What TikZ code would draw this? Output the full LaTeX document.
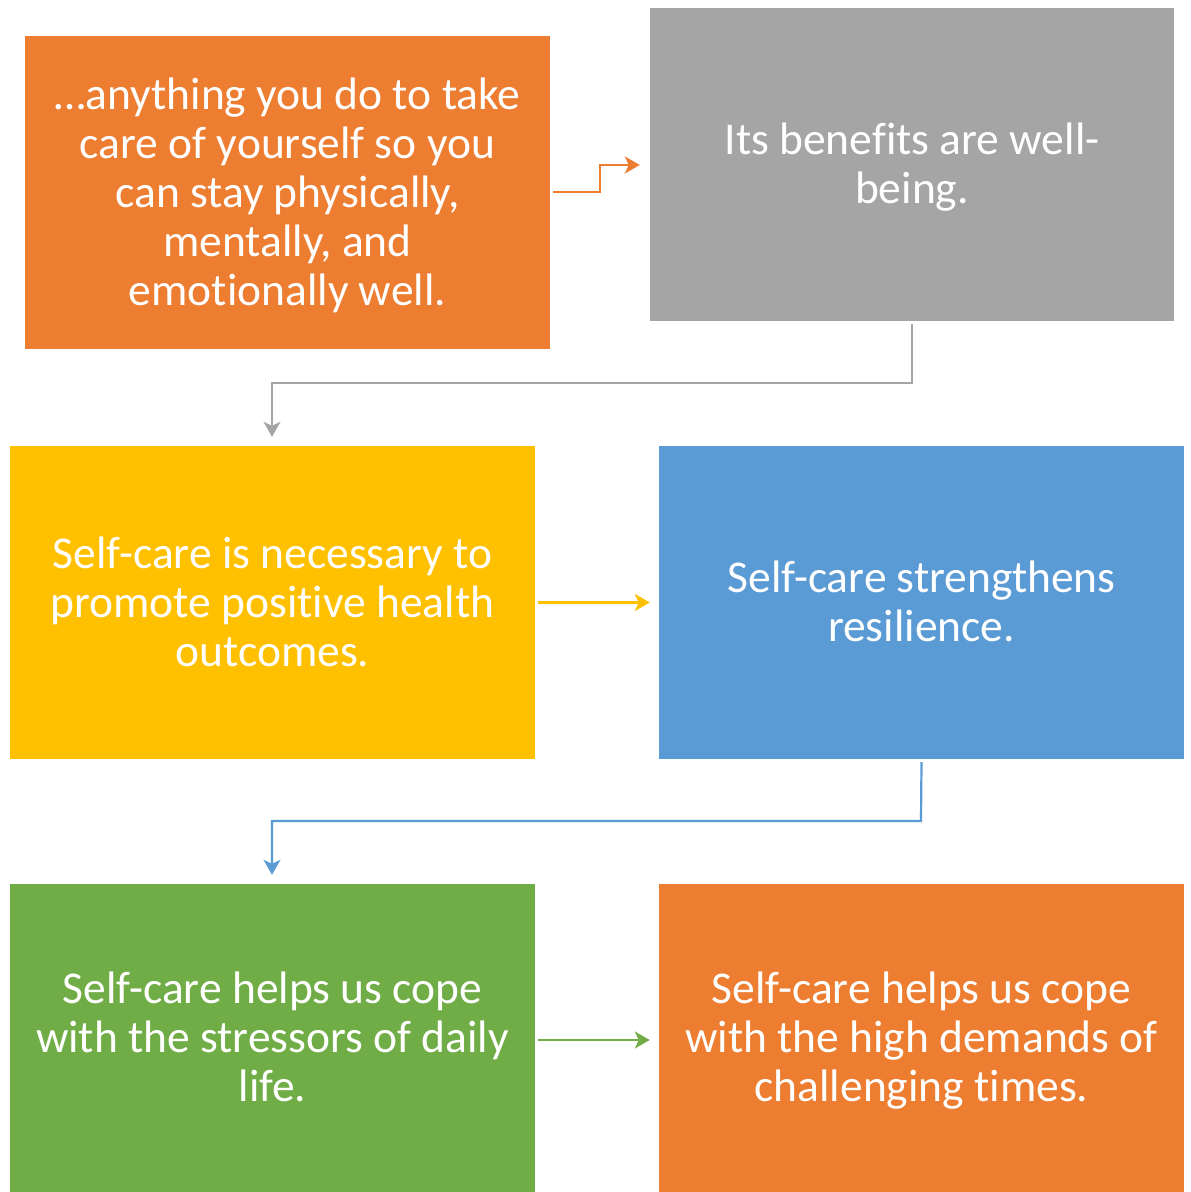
\documentclass[tikz,border=0pt]{standalone}
\usepackage{fontspec}
\setmainfont{Carlito}[Ligatures=NoCommon]
\usetikzlibrary{arrows.meta}
\definecolor{corange}{HTML}{ED7D31}
\definecolor{cgray}{HTML}{A5A5A5}
\definecolor{cyellow}{HTML}{FFC000}
\definecolor{cblue}{HTML}{5B9BD5}
\definecolor{cgreen}{HTML}{70AD47}
\newcommand{\lastdp}{\vphantom{g}}
\tikzset{
  box/.style={draw=none, inner sep=0pt, minimum width=525pt},
  txt/.style={inner sep=0pt, text=white, align=center, yshift=-3pt,
    font=\fontsize{45.5}{49}\selectfont},
  conn/.style={line width=2.2pt, -{Stealth[length=15pt,width=17pt,inset=4pt]}},
}
\begin{document}
\begin{tikzpicture}[x=1pt,y=1pt]
\useasboundingbox (0,0) rectangle (1191,1192);
\fill[white] (0,0) rectangle (1191,1192);
% boxes (y up: y = 1192 - ypix)
\node[box, fill=corange, minimum height=313pt] (b1) at (287.5,999.5) {};
\node[box, fill=cgray, minimum width=524pt, minimum height=313pt] (b2) at (912,1027.5) {};
\node[box, fill=cyellow, minimum height=313pt] (b3) at (272.5,589.5) {};
\node[box, fill=cblue, minimum height=313pt] (b4) at (921.5,589.5) {};
\node[box, fill=cgreen, minimum height=308pt] (b5) at (272.5,154) {};
\node[box, fill=corange, minimum height=308pt] (b6) at (921.5,154) {};
% texts
\node[txt] (t1) at (b1.center) {…anything you do to take\\care of yourself so you\\can stay physically,\\mentally, and\\emotionally well.\lastdp};
\node[txt] (t2) at (b2.center) {Its benefits are well-\\being.\lastdp};
\node[txt] (t3) at (b3.center) {Self-care is necessary to\\promote positive health\\outcomes.\lastdp};
\node[txt] (t4) at (b4.center) {Self-care strengthens\\resilience.\lastdp};
\node[txt] (t5) at (b5.center) {Self-care helps us cope\\with the stressors of daily\\life.\lastdp};
\node[txt] (t6) at (b6.center) {Self-care helps us cope\\with the high demands of\\challenging times.\lastdp};
% connectors
\coordinate (a1s) at (553,1000);
\draw[conn, corange] ([xshift=3pt]b1.east |- a1s) -- (600,1000) -- (600,1027) -- ([xshift=-10pt]b2.west |- 0,1027);
\draw[conn, cgray] ([yshift=-3pt]b2.south) -- (912,809) -- (272,809) -- ([yshift=9pt]b3.north -| 272,0);
\draw[conn, cyellow] ([xshift=3pt]b3.east) -- ([xshift=-9pt]b4.west);
\draw[conn, cblue] ([yshift=-3pt]b4.south) -- (921,371) -- (272,371) -- ([yshift=9pt]b5.north -| 272,0);
\draw[conn, cgreen] ([xshift=3pt]b5.east |- 0,152) -- ([xshift=-9pt]b6.west |- 0,152);
\end{tikzpicture}
\end{document}
